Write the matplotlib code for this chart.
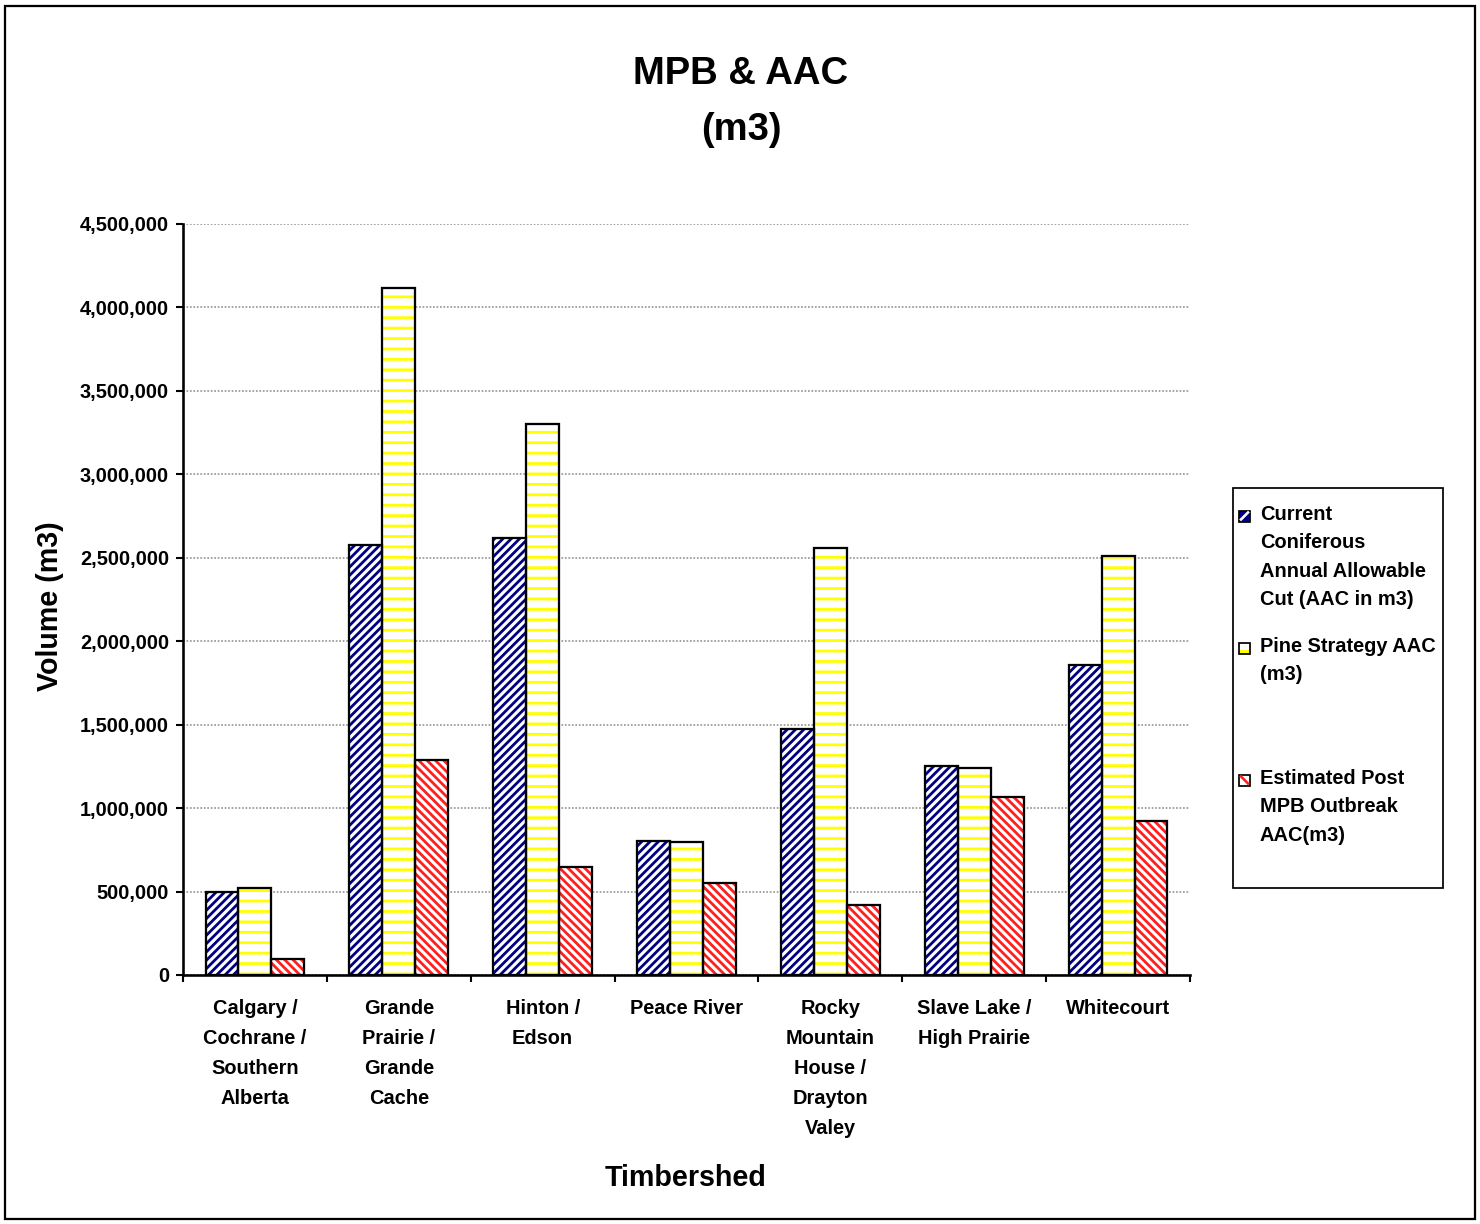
import matplotlib
matplotlib.use("Agg")
import matplotlib.pyplot as plt
from matplotlib.patches import Rectangle
from matplotlib.lines import Line2D
from matplotlib.ticker import FuncFormatter, FixedLocator
import numpy as np

# Data
timbersheds = [
    "Calgary /\nCochrane /\nSouthern\nAlberta",
    "Grande\nPrairie /\nGrande\nCache",
    "Hinton /\nEdson",
    "Peace River",
    "Rocky\nMountain\nHouse /\nDrayton\nValey",
    "Slave Lake /\nHigh Prairie",
    "Whitecourt",
]
current_aac = [495000, 2575000, 2620000, 805000, 1475000, 1250000, 1860000]
pine_strategy_aac = [520000, 4115000, 3300000, 795000, 2560000, 1240000, 2510000]
post_mpb_aac = [95000, 1290000, 645000, 550000, 420000, 1065000, 920000]

series_labels = [
    "Current\nConiferous\nAnnual Allowable\nCut (AAC in m3)",
    "Pine Strategy AAC\n(m3)",
    "Estimated Post\nMPB Outbreak\nAAC(m3)",
]

plt.rcParams["font.family"] = ["Liberation Sans", "DejaVu Sans"]
plt.rcParams["font.weight"] = "bold"
plt.rcParams["hatch.linewidth"] = 1.6

DPI = 125
W, H = 1480, 1224

# (hatch color, hatch pattern)
styles = [
    ("#000080", "/////"),
    ("#FFFF00", "--"),
    ("#FF2020", "\\\\\\\\\\"),
]


def hatched_bar(ax, x, h, width, color, hatch):
    ax.bar(x, h, width, facecolor="white", edgecolor=color,
           hatch=hatch, linewidth=0, zorder=2)
    ax.bar(x, h, width, fill=False, edgecolor="black", linewidth=1.3, zorder=3)


fig = plt.figure(figsize=(W / DPI, H / DPI), dpi=DPI)
ax = fig.add_axes([183 / W, 1 - 975 / H, (1190 - 183) / W, (975 - 224) / H])

x = np.arange(len(timbersheds))
bw = 0.229
for i, vals in enumerate([current_aac, pine_strategy_aac, post_mpb_aac]):
    color, hatch = styles[i]
    hatched_bar(ax, x + (i - 1) * bw, vals, bw, color, hatch)

ax.set_xlim(-0.5, len(timbersheds) - 0.5)
ax.set_ylim(0, 4500000)
ax.yaxis.set_major_locator(FixedLocator(np.arange(0, 4500001, 500000)))
ax.yaxis.set_major_formatter(FuncFormatter(lambda v, p: f"{v:,.0f}"))
ax.grid(axis="y", color="#999999", linestyle=(0, (1, 1)), linewidth=1.0)
ax.set_axisbelow(True)

ax.set_xticks(x)
ax.set_xticklabels(timbersheds, fontsize=11.5, fontweight="bold", linespacing=1.73)
ax.set_xticks(np.arange(-0.5, len(timbersheds)), minor=True)
ax.tick_params(axis="x", which="major", length=0, pad=14)
ax.tick_params(axis="x", which="minor", length=4, width=1.2, direction="out")
ax.tick_params(axis="y", length=4, width=1.2, direction="out", pad=4, labelsize=11.5)
for lab in ax.get_yticklabels():
    lab.set_fontweight("bold")

for s in ["top", "right"]:
    ax.spines[s].set_visible(False)
for s in ["left", "bottom"]:
    ax.spines[s].set_linewidth(1.5)

# Titles and axis labels
fig.text(741 / W, 1 - 102 / H, "MPB & AAC\n(m3)", ha="center", va="center",
         fontsize=22, fontweight="bold", linespacing=1.68)
fig.text(50 / W, 1 - 606 / H, "Volume (m3)", rotation=90, ha="center",
         va="center", fontsize=16.5, fontweight="bold")
fig.text(686 / W, 1 - 1178 / H, "Timbershed", ha="center", va="center",
         fontsize=16.5, fontweight="bold")

# Legend drawn by hand to follow the original spacing
fig.patches.append(Rectangle((1233 / W, 1 - 888 / H), 210 / W, 400 / H,
                             transform=fig.transFigure, fill=False,
                             edgecolor="black", linewidth=1.0))
entry_tops = [516, 648, 780]
sq = 11
for i, label in enumerate(series_labels):
    color, hatch = styles[i]
    yc = entry_tops[i]
    x0, y0 = 1239 / W, 1 - (yc + sq / 2) / H
    if i == 0:
        fig.patches.append(Rectangle((x0, y0), sq / W, sq / H, transform=fig.transFigure,
                                     facecolor=color, linewidth=0))
        fig.lines.append(Line2D([x0 + 2 / W, x0 + (sq - 2) / W], [y0 + 2 / H, y0 + (sq - 2) / H],
                                transform=fig.transFigure, color="white", linewidth=1.5))
    elif i == 1:
        fig.patches.append(Rectangle((x0, y0), sq / W, 4 / H, transform=fig.transFigure,
                                     facecolor=color, linewidth=0))
    else:
        fig.lines.append(Line2D([x0 + 2 / W, x0 + (sq - 2) / W], [y0 + (sq - 2) / H, y0 + 2 / H],
                                transform=fig.transFigure, color=color, linewidth=1.5))
    fig.patches.append(Rectangle((x0, y0), sq / W, sq / H, transform=fig.transFigure,
                                 fill=False, edgecolor="black", linewidth=1.0))
    fig.text(1260 / W, 1 - (yc - 11) / H, label, ha="left", va="top",
             fontsize=11.5, fontweight="bold", linespacing=1.62)

# Outer frame
fig.patches.append(Rectangle((5 / W, 5 / H), 1470 / W, 1213 / H,
                             transform=fig.transFigure, fill=False,
                             edgecolor="black", linewidth=1.3))

fig.savefig("out.png", dpi=DPI)
